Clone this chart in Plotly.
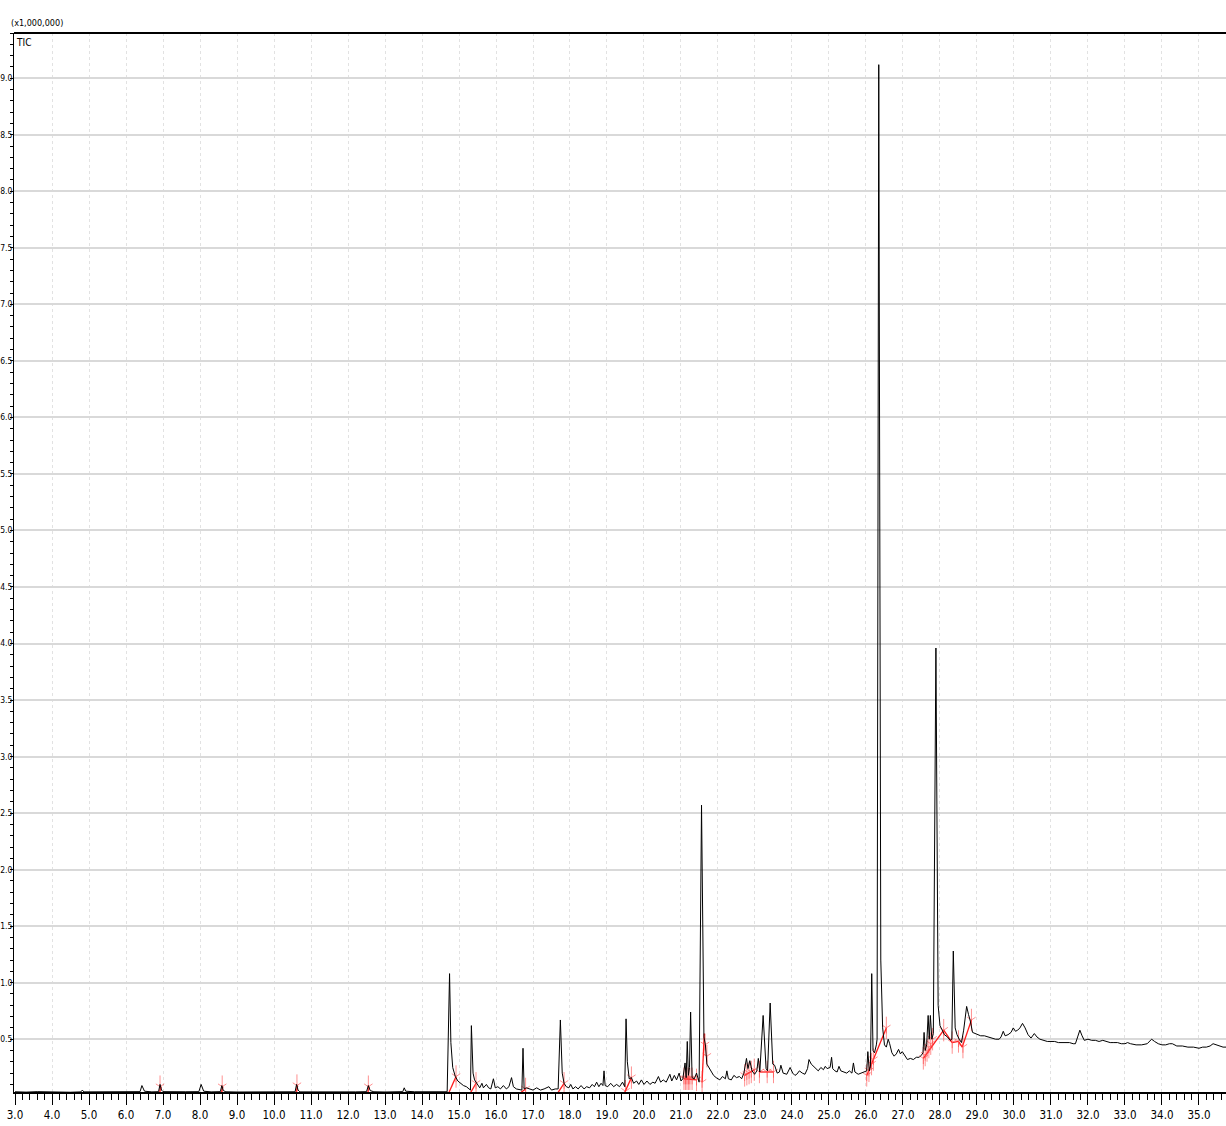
import plotly.graph_objects as go

# ---- TIC chromatogram (retention time in min, intensity x1,000,000) ----
rt = [3.0, 3.3, 3.6, 3.9, 4.2, 4.5, 4.78, 4.82, 4.86, 5.2, 5.5, 5.8, 6.1, 6.38, 6.43, 6.5, 6.7,
      6.88, 6.92, 6.96, 7.0, 7.3, 7.6, 7.97, 8.03, 8.1, 8.3, 8.55, 8.59, 8.63, 8.7, 9.0, 9.4, 9.8,
      10.2, 10.57, 10.61, 10.65, 10.7, 11.0, 11.4, 11.8, 12.2, 12.5, 12.55, 12.6, 12.7, 13.0, 13.3,
      13.48, 13.52, 13.56, 13.8, 14.1, 14.4, 14.68,
      14.745, 14.78, 14.83, 14.9, 14.97, 15.05, 15.12, 15.2, 15.28, 15.31,
      15.335, 15.38, 15.42, 15.5, 15.56, 15.62, 15.66, 15.74, 15.8, 15.86, 15.93, 15.98, 16.05,
      16.12, 16.2, 16.28, 16.35, 16.42, 16.47, 16.55, 16.65, 16.7, 16.73, 16.76, 16.82, 16.9, 17.0,
      17.1, 17.2, 17.3, 17.43, 17.5, 17.6, 17.68, 17.74, 17.79, 17.84, 17.9, 17.97, 18.02, 18.08,
      18.15, 18.22, 18.3, 18.38, 18.45, 18.53, 18.6, 18.66, 18.72, 18.78, 18.84, 18.89, 18.92,
      18.95, 19.02, 19.1, 19.18, 19.26, 19.34, 19.42, 19.48, 19.515, 19.55, 19.6, 19.66, 19.72,
      19.8, 19.86, 19.93, 20.0, 20.08, 20.16, 20.24, 20.3, 20.39, 20.45, 20.52, 20.6, 20.7, 20.75,
      20.82, 20.88, 20.95, 21.0, 21.05, 21.11, 21.14, 21.17, 21.2, 21.23, 21.26, 21.3, 21.36,
      21.42, 21.49, 21.555, 21.62, 21.66, 21.7, 21.76, 21.82, 21.88, 21.95, 22.05, 22.12, 22.2,
      22.24, 22.28, 22.36, 22.43, 22.5, 22.58, 22.64, 22.7, 22.77, 22.81, 22.86, 22.92, 22.99,
      23.05, 23.09, 23.13, 23.22, 23.3, 23.34, 23.41, 23.48, 23.53, 23.6, 23.66, 23.7, 23.76,
      23.86, 23.9, 23.95, 24.02, 24.08, 24.13, 24.2, 24.28, 24.35, 24.42, 24.46, 24.52, 24.58,
      24.64, 24.71, 24.78, 24.85, 24.9, 24.95, 25.03, 25.07, 25.1, 25.16, 25.22, 25.27, 25.32,
      25.4, 25.48, 25.55, 25.62, 25.66, 25.7, 25.79, 25.88, 25.97, 26.02, 26.05, 26.09, 26.12,
      26.155, 26.19, 26.23, 26.28, 26.3, 26.345, 26.4, 26.45, 26.5, 26.55, 26.6, 26.64, 26.7,
      26.76, 26.82, 26.88, 26.93, 26.98, 27.05, 27.12, 27.2, 27.28, 27.36, 27.44, 27.5, 27.54,
      27.57, 27.6, 27.64, 27.68, 27.71, 27.74, 27.78, 27.82, 27.89, 27.95, 28.0, 28.05, 28.12,
      28.2, 28.28, 28.32, 28.36, 28.41, 28.46, 28.52, 28.58, 28.64, 28.72, 28.77, 28.82, 28.88,
      28.95, 29.02, 29.1, 29.2, 29.3, 29.4, 29.5, 29.6, 29.65, 29.71, 29.76, 29.84, 29.92, 29.98,
      30.04, 30.1, 30.16, 30.23, 30.3, 30.38, 30.46, 30.55, 30.62, 30.7, 30.8, 30.9, 31.0, 31.1,
      31.2, 31.3, 31.4, 31.5, 31.6, 31.66, 31.72, 31.78, 31.84, 31.9, 32.0, 32.1, 32.2, 32.3,
      32.4, 32.5, 32.6, 32.7, 32.8, 32.9, 33.0, 33.07, 33.15, 33.3, 33.45, 33.6, 33.72, 33.8,
      33.9, 34.0, 34.1, 34.2, 34.28, 34.4, 34.55, 34.7, 34.85, 35.0, 35.1, 35.2, 35.3, 35.38,
      35.46, 35.55, 35.65, 35.75]

tic = [0.035, 0.032, 0.036, 0.033, 0.035, 0.031, 0.034, 0.05, 0.034, 0.033, 0.036, 0.032, 0.035,
       0.036, 0.09, 0.04, 0.034, 0.036, 0.10, 0.05, 0.036, 0.033, 0.035, 0.036, 0.10, 0.04, 0.034,
       0.036, 0.09, 0.045, 0.035, 0.033, 0.035, 0.032, 0.034, 0.035, 0.10, 0.05, 0.034, 0.033,
       0.035, 0.032, 0.034, 0.036, 0.09, 0.045, 0.035, 0.033, 0.035, 0.036, 0.07, 0.04, 0.035,
       0.034, 0.036, 0.035,
       1.08, 0.47, 0.25, 0.17, 0.13, 0.11, 0.09, 0.08, 0.06, 0.05,
       0.62, 0.20, 0.14, 0.10, 0.07, 0.11, 0.07, 0.10, 0.07, 0.06, 0.15, 0.07, 0.08,
       0.06, 0.09, 0.06, 0.08, 0.16, 0.08, 0.06, 0.05, 0.05, 0.42, 0.06, 0.07, 0.06, 0.05,
       0.07, 0.05, 0.06, 0.08, 0.05, 0.06, 0.06, 0.67, 0.20, 0.11, 0.08, 0.07, 0.10, 0.06,
       0.08, 0.06, 0.09, 0.06, 0.08, 0.07, 0.10, 0.08, 0.12, 0.08, 0.11, 0.09, 0.22,
       0.09, 0.08, 0.11, 0.08, 0.10, 0.08, 0.12, 0.08, 0.68, 0.30, 0.15, 0.16, 0.11,
       0.13, 0.10, 0.14, 0.10, 0.13, 0.10, 0.12, 0.11, 0.17, 0.12, 0.14, 0.12, 0.19, 0.13,
       0.18, 0.14, 0.20, 0.13, 0.15, 0.29, 0.16, 0.48, 0.18, 0.25, 0.74, 0.16, 0.15,
       0.20, 0.12, 2.57, 0.52, 0.45, 0.28, 0.25, 0.22, 0.18, 0.16, 0.14, 0.17, 0.15,
       0.22, 0.15, 0.14, 0.18, 0.16, 0.17, 0.15, 0.20, 0.33, 0.24, 0.31, 0.22, 0.19,
       0.22, 0.33, 0.21, 0.71, 0.24, 0.22, 0.82, 0.28, 0.27, 0.20, 0.21, 0.27, 0.20,
       0.19, 0.22, 0.25, 0.20, 0.18, 0.19, 0.22, 0.20, 0.19, 0.24, 0.32, 0.28, 0.26,
       0.24, 0.22, 0.25, 0.23, 0.26, 0.24, 0.25, 0.34, 0.24, 0.22, 0.21, 0.26, 0.22,
       0.21, 0.20, 0.22, 0.20, 0.29, 0.21, 0.19, 0.20, 0.21, 0.22, 0.39, 0.22, 0.26,
       1.08, 0.40, 0.38, 0.45, 0.50, 9.12, 1.20, 0.60, 0.45, 0.43, 0.50, 0.46, 0.38,
       0.35, 0.37, 0.41, 0.37, 0.39, 0.35, 0.32, 0.33, 0.32, 0.34, 0.34, 0.36, 0.38,
       0.56, 0.40, 0.45, 0.71, 0.50, 0.71, 0.50, 0.55, 3.96, 0.80, 0.62, 0.58, 0.54,
       0.52, 0.49, 0.50, 1.28, 0.60, 0.54, 0.50, 0.47, 0.58, 0.79, 0.72, 0.66, 0.56,
       0.55, 0.54, 0.53, 0.53, 0.52, 0.51, 0.50, 0.50, 0.52, 0.57, 0.53, 0.54, 0.56, 0.60,
       0.57, 0.58, 0.60, 0.64, 0.60, 0.54, 0.51, 0.55, 0.52, 0.50, 0.49, 0.48, 0.48, 0.48,
       0.47, 0.47, 0.47, 0.47, 0.46, 0.46, 0.52, 0.58, 0.53, 0.49, 0.50, 0.49, 0.49, 0.48,
       0.49, 0.48, 0.47, 0.47, 0.47, 0.46, 0.46, 0.47, 0.46, 0.45, 0.45, 0.46, 0.50, 0.48,
       0.46, 0.45, 0.45, 0.46, 0.46, 0.44, 0.44, 0.43, 0.43, 0.42, 0.43, 0.43, 0.44, 0.46,
       0.45, 0.44, 0.43, 0.43]

# ---- peak integration baselines (red) ----
base_t0 = [6.90, 8.57, 10.60, 12.53, 14.71, 15.30, 16.68, 17.66, 19.48, 21.08, 21.57, 22.72,
           23.12, 26.02, 27.55, 28.10, 28.33, 28.50, 28.60]
base_v0 = [0.02, 0.02, 0.03, 0.02, 0.015, 0.02, 0.03, 0.02, 0.03, 0.15, 0.12, 0.18,
           0.21, 0.18, 0.33, 0.58, 0.47, 0.48, 0.43]
base_t1 = [6.95, 8.62, 10.64, 12.57, 14.92, 15.46, 16.80, 17.84, 19.66, 21.42, 21.63, 22.98,
           23.50, 26.55, 28.10, 28.33, 28.50, 28.60, 28.85]
base_v1 = [0.08, 0.08, 0.09, 0.08, 0.17, 0.11, 0.06, 0.11, 0.16, 0.14, 0.55, 0.23,
           0.21, 0.60, 0.58, 0.47, 0.48, 0.43, 0.67]

# ---- peak start / end marks ----
mark_t = [6.92, 8.60, 10.62, 12.55, 14.92, 15.46, 16.80, 17.84, 19.50, 19.66, 21.08, 21.12,
          21.16, 21.20, 21.24, 21.30, 21.42, 21.57, 21.65, 21.70, 22.72, 22.78, 22.84, 22.90,
          22.98, 23.12, 23.33, 23.50, 26.02, 26.08, 26.15, 26.20, 26.55, 27.55, 27.60, 27.65,
          27.70, 27.75, 27.80, 28.10, 28.33, 28.50, 28.62, 28.85]
mark_v = [0.08, 0.08, 0.09, 0.08, 0.17, 0.11, 0.06, 0.11, 0.04, 0.16, 0.15, 0.15,
          0.15, 0.15, 0.15, 0.15, 0.14, 0.12, 0.45, 0.35, 0.18, 0.19, 0.20, 0.21,
          0.23, 0.21, 0.21, 0.21, 0.18, 0.22, 0.28, 0.32, 0.60, 0.33, 0.36, 0.40,
          0.43, 0.46, 0.50, 0.58, 0.47, 0.48, 0.43, 0.67]

x_ticks = [3.0 + i for i in range(33)]
x_labels = ["%.1f" % v for v in x_ticks]
y_ticks = [0.5 * i for i in range(1, 19)]
y_labels = ["%.1f" % v for v in y_ticks]

FONT = "Liberation Sans Narrow, DejaVu Sans Condensed, Arial Narrow, sans-serif"
RED_MARK = "rgba(255,70,70,0.6)"

fig = go.Figure()

# red baseline segments
seg_x, seg_y = [], []
for a, b, c, d in zip(base_t0, base_v0, base_t1, base_v1):
    seg_x += [a, c, None]
    seg_y += [b, d, None]
fig.add_trace(go.Scatter(x=seg_x, y=seg_y, mode="lines",
                         line=dict(color="#ff1a1a", width=1.3), hoverinfo="skip", showlegend=False))

fig.add_trace(go.Scatter(x=mark_t, y=mark_v, mode="markers",
                         marker=dict(symbol="line-ns-open", size=16, color=RED_MARK,
                                     line=dict(color=RED_MARK, width=1)),
                         hoverinfo="skip", showlegend=False))
fig.add_trace(go.Scatter(x=mark_t, y=mark_v, mode="markers",
                         marker=dict(symbol="y-down-open", size=7, color=RED_MARK,
                                     line=dict(color=RED_MARK, width=1)),
                         hoverinfo="skip", showlegend=False))

fig.add_trace(go.Scatter(x=rt, y=tic, mode="lines", line=dict(color="black", width=1),
                         showlegend=False, name="TIC"))

fig.update_layout(
    width=1226, height=1126,
    margin=dict(l=14, r=0, t=33, b=34, autoexpand=False),
    paper_bgcolor="white", plot_bgcolor="white",
    font=dict(family=FONT, size=11, color="black"),
    xaxis=dict(range=[2.973, 35.73], tickmode="array", tickvals=x_ticks, ticktext=x_labels,
               automargin=False, ticklabelstandoff=0,
               ticks="outside", ticklen=11, tickwidth=1, tickcolor="black",
               showline=True, linecolor="black", linewidth=2,
               showgrid=True, gridcolor="#e2e2e2", gridwidth=1, griddash="dot",
               zeroline=False, tickfont=dict(family=FONT, size=11.5),
               minor=dict(dtick=0.2, tick0=3.0, ticks="outside", ticklen=6, tickcolor="black",
                          showgrid=False)),
    yaxis=dict(range=[0.033, 9.40], tickmode="array", tickvals=y_ticks, ticktext=y_labels,
               automargin=False, ticklabelstandoff=-4,
               ticks="outside", ticklen=3, tickcolor="black",
               showline=True, linecolor="black", linewidth=1,
               showgrid=True, gridcolor="#d9d9d9", gridwidth=1.5,
               zeroline=False, tickfont=dict(family=FONT, size=8.5),
               minor=dict(dtick=0.1, tick0=0.0, ticks="outside", ticklen=3, tickcolor="black",
                          showgrid=False)),
    shapes=[dict(type="line", xref="paper", yref="paper", x0=0, x1=1, y0=1, y1=1,
                 line=dict(color="black", width=2))],
    annotations=[
        dict(text="(x1,000,000)", xref="paper", yref="paper", x=0.0, y=1.0, xshift=-5,
             yshift=3, xanchor="left", yanchor="bottom", showarrow=False,
             font=dict(family=FONT, size=9)),
        dict(text="TIC", xref="paper", yref="paper", x=0.0, y=1.0, xshift=0, yshift=-2,
             xanchor="left", yanchor="top", showarrow=False,
             font=dict(family=FONT, size=10)),
    ],
)

fig.write_html("out.html", config={"displayModeBar": False},
               post_script="document.body.style.margin='0';document.body.style.overflow='hidden';")
